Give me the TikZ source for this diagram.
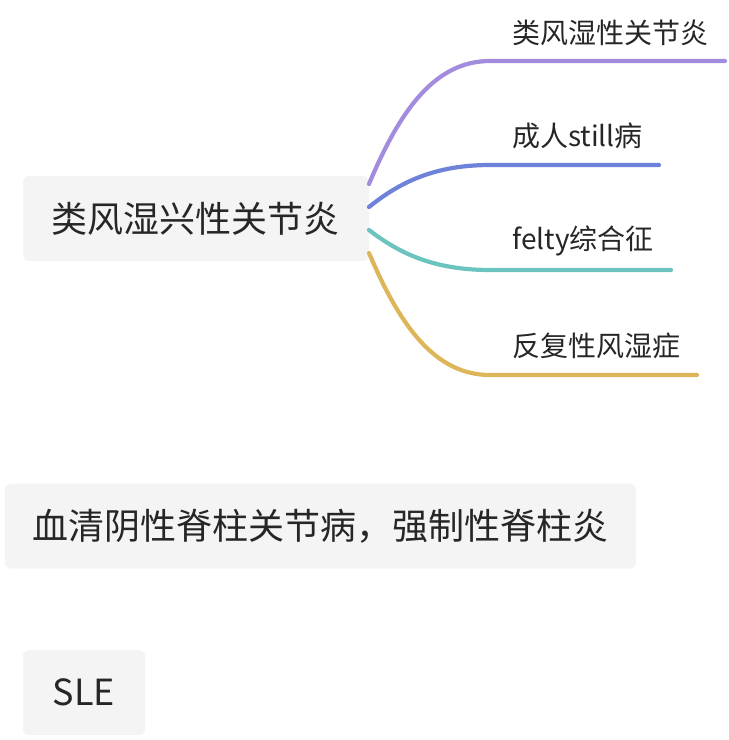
\documentclass[tikz,border=0pt]{standalone}
\usepackage{fontspec}
\setmainfont{Noto Sans CJK SC}
\definecolor{boxfill}{HTML}{F4F4F4}
\definecolor{txt}{HTML}{262626}
\definecolor{cpurple}{HTML}{A38BDE}
\definecolor{cblue}{HTML}{6D82D8}
\definecolor{cteal}{HTML}{6CC4C1}
\definecolor{cgold}{HTML}{DDB65A}
\begin{document}
\begin{tikzpicture}[x=1pt,y=-1pt,
  topic/.style={fill=boxfill,rounded corners=6pt,text=txt,font=\fontsize{36}{42}\selectfont,inner sep=0pt,minimum height=85pt},
  sub/.style={anchor=west,text=txt,font=\fontsize{28}{32}\selectfont,inner sep=0pt},
  branch/.style={line width=4.2pt,line cap=round}]
\useasboundingbox (0,0) rectangle (729,740);
\node[topic,minimum width=346pt] (root) at (196,218.5) {类风湿兴性关节炎};
\node[topic,minimum width=631pt] (sero) at (320.5,526) {血清阴性脊柱关节病，强制性脊柱炎};
\node[topic,minimum width=122pt] (sle) at (84,692.5) {SLE};
\node[sub] (c1) at (512,33) {类风湿性关节炎};
\node[sub] (c2) at (512,136) {成人still病};
\node[sub] (c3) at (512,241) {felty综合征};
\node[sub] (c4) at (512,346) {反复性风湿症};
\coordinate (r1) at (369,184);
\coordinate (r2) at (369,207);
\coordinate (r3) at (369,230);
\coordinate (r4) at (369,253);
\coordinate (s1) at (490,61);  \coordinate (e1) at (725,61);
\coordinate (s2) at (490,165); \coordinate (e2) at (659,165);
\coordinate (s3) at (490,270); \coordinate (e3) at (671,270);
\coordinate (s4) at (490,375); \coordinate (e4) at (697,375);
\draw[branch,cpurple] (r1) .. controls (400,110) and (435,61) .. (s1) -- (e1);
\draw[branch,cblue] (r2) .. controls (400,182) and (435,165) .. (s2) -- (e2);
\draw[branch,cteal] (r3) .. controls (400,254) and (435,270) .. (s3) -- (e3);
\draw[branch,cgold] (r4) .. controls (400,326) and (435,375) .. (s4) -- (e4);
\end{tikzpicture}
\end{document}
